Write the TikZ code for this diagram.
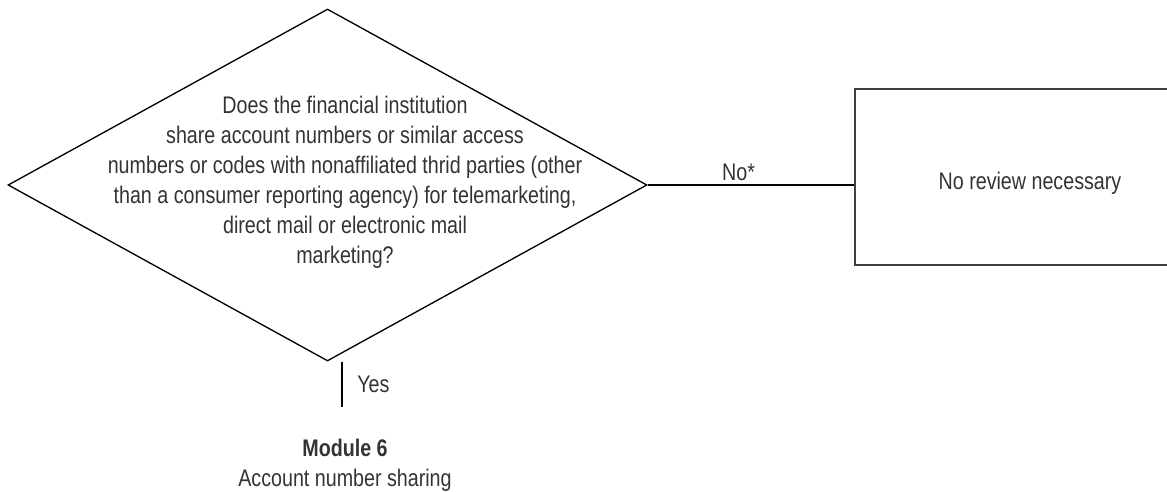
\documentclass[tikz,border=0pt]{standalone}
\usepackage{fontspec}
\setmainfont[FakeStretch=0.82]{Liberation Sans}
\usetikzlibrary{shapes.geometric,positioning}

\begin{document}
\begin{tikzpicture}[x=0.75pt,y=-0.75pt,
  every node/.style={font=\fontsize{18}{22.5}\selectfont, text=black!80},
  decision/.style={draw, diamond, line width=1pt, inner sep=0pt, minimum width=479.25pt, minimum height=264pt},
  outcome/.style={draw=black!75, rectangle, line width=1.4pt, inner sep=0pt, minimum width=262pt, minimum height=132pt, text height=18pt, text depth=0pt},
  link/.style={line width=1pt}]
  \useasboundingbox (0,0) rectangle (1167,492);

  % decision and its outcomes
  \node[decision] (check) at (327.5,185) {};
  \node[align=center] (question) at (345,182) {Does the financial institution\\
    share account numbers or similar access\\
    numbers or codes with nonaffiliated thrid parties (other\\
    than a consumer reporting agency) for telemarketing,\\
    direct mail or electronic mail\\
    marketing?};
  \node[outcome] (review) at (1030,177) {No review necessary};
  \node[align=center] (module) at (345,465) {\textbf{Module 6}\\Account number sharing};
  \coordinate (yesend) at (342,407);

  \draw[link] (check.east) -- (check.east -| review.west) node[pos=.44, above, inner sep=3pt] {No*};
  \draw[link] (check.south -| yesend) -- (yesend) node[midway, right=11pt, inner sep=0pt] {Yes};
\end{tikzpicture}
\end{document}
